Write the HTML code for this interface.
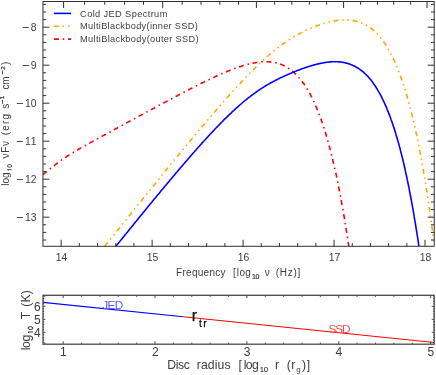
<!DOCTYPE html>
<html><head><meta charset="utf-8"><title>plot</title>
<style>
html,body{margin:0;padding:0;background:#fff;}
svg{display:block;font-family:"Liberation Sans",sans-serif;will-change:transform;}
</style></head><body>
<svg width="436" height="375" viewBox="0 0 436 375">
<rect width="436" height="375" fill="#fff"/>
<clipPath id="cp"><rect x="42.95" y="1.5" width="391.25" height="244.8"/></clipPath>
<polyline clip-path="url(#cp)" points="43.0,174.7 43.5,174.2 44.1,173.7 44.7,173.2 45.3,172.7 45.9,172.2 46.5,171.7 47.1,171.2 47.6,170.7 48.2,170.2 48.8,169.7 49.4,169.3 50.0,168.8 50.6,168.3 51.2,167.9 51.8,167.4 52.3,166.9 52.9,166.5 53.5,166.0 54.1,165.6 54.7,165.1 55.3,164.7 55.9,164.2 56.5,163.8 57.0,163.3 57.6,162.9 58.2,162.5 58.8,162.1 59.4,161.6 60.0,161.2 60.6,160.8 61.1,160.4 61.7,160.0 62.3,159.6 62.9,159.2 63.5,158.8 64.1,158.4 64.7,158.0 65.3,157.6 65.8,157.2 66.4,156.8 67.0,156.4 67.6,156.0 68.2,155.6 68.8,155.3 69.4,154.9 70.0,154.5 70.5,154.1 71.1,153.8 71.7,153.4 72.3,153.0 72.9,152.7 73.5,152.3 74.1,152.0 74.6,151.6 75.2,151.3 75.8,150.9 76.4,150.6 77.0,150.2 77.6,149.9 78.2,149.5 78.8,149.2 79.3,148.8 79.9,148.5 80.5,148.1 81.1,147.8 81.7,147.5 82.3,147.1 82.9,146.8 83.5,146.5 84.0,146.1 84.6,145.8 85.2,145.5 85.8,145.2 86.4,144.8 87.0,144.5 87.6,144.2 88.2,143.8 88.7,143.5 89.3,143.2 89.9,142.9 90.5,142.5 91.1,142.2 91.7,141.9 92.3,141.6 92.8,141.3 93.4,140.9 94.0,140.6 94.6,140.3 95.2,140.0 95.8,139.6 96.4,139.3 97.0,139.0 97.5,138.7 98.1,138.4 98.7,138.0 99.3,137.7 99.9,137.4 100.5,137.1 101.1,136.8 101.7,136.4 102.2,136.1 102.8,135.8 103.4,135.5 104.0,135.2 104.6,134.8 105.2,134.5 105.8,134.2 106.3,133.9 106.9,133.6 107.5,133.3 108.1,132.9 108.7,132.6 109.3,132.3 109.9,132.0 110.5,131.7 111.0,131.3 111.6,131.0 112.2,130.7 112.8,130.4 113.4,130.1 114.0,129.7 114.6,129.4 115.2,129.1 115.7,128.8 116.3,128.5 116.9,128.2 117.5,127.8 118.1,127.5 118.7,127.2 119.3,126.9 119.8,126.6 120.4,126.2 121.0,125.9 121.6,125.6 122.2,125.3 122.8,125.0 123.4,124.6 124.0,124.3 124.5,124.0 125.1,123.7 125.7,123.4 126.3,123.1 126.9,122.7 127.5,122.4 128.1,122.1 128.7,121.8 129.2,121.5 129.8,121.1 130.4,120.8 131.0,120.5 131.6,120.2 132.2,119.9 132.8,119.6 133.4,119.2 133.9,118.9 134.5,118.6 135.1,118.3 135.7,118.0 136.3,117.7 136.9,117.3 137.5,117.0 138.0,116.7 138.6,116.4 139.2,116.1 139.8,115.7 140.4,115.4 141.0,115.1 141.6,114.8 142.2,114.5 142.7,114.2 143.3,113.8 143.9,113.5 144.5,113.2 145.1,112.9 145.7,112.6 146.3,112.3 146.9,111.9 147.4,111.6 148.0,111.3 148.6,111.0 149.2,110.7 149.8,110.4 150.4,110.0 151.0,109.7 151.5,109.4 152.1,109.1 152.7,108.8 153.3,108.5 153.9,108.2 154.5,107.8 155.1,107.5 155.7,107.2 156.2,106.9 156.8,106.6 157.4,106.3 158.0,105.9 158.6,105.6 159.2,105.3 159.8,105.0 160.4,104.7 160.9,104.4 161.5,104.1 162.1,103.7 162.7,103.4 163.3,103.1 163.9,102.8 164.5,102.5 165.1,102.2 165.6,101.9 166.2,101.6 166.8,101.2 167.4,100.9 168.0,100.6 168.6,100.3 169.2,100.0 169.7,99.7 170.3,99.4 170.9,99.1 171.5,98.8 172.1,98.4 172.7,98.1 173.3,97.8 173.9,97.5 174.4,97.2 175.0,96.9 175.6,96.6 176.2,96.3 176.8,96.0 177.4,95.7 178.0,95.3 178.6,95.0 179.1,94.7 179.7,94.4 180.3,94.1 180.9,93.8 181.5,93.5 182.1,93.2 182.7,92.9 183.2,92.6 183.8,92.3 184.4,92.0 185.0,91.7 185.6,91.4 186.2,91.1 186.8,90.7 187.4,90.4 187.9,90.1 188.5,89.8 189.1,89.5 189.7,89.2 190.3,88.9 190.9,88.6 191.5,88.3 192.1,88.0 192.6,87.7 193.2,87.4 193.8,87.1 194.4,86.8 195.0,86.5 195.6,86.2 196.2,85.9 196.7,85.6 197.3,85.3 197.9,85.1 198.5,84.8 199.1,84.5 199.7,84.2 200.3,83.9 200.9,83.6 201.4,83.3 202.0,83.0 202.6,82.7 203.2,82.4 203.8,82.1 204.4,81.8 205.0,81.6 205.6,81.3 206.1,81.0 206.7,80.7 207.3,80.4 207.9,80.1 208.5,79.9 209.1,79.6 209.7,79.3 210.3,79.0 210.8,78.7 211.4,78.5 212.0,78.2 212.6,77.9 213.2,77.6 213.8,77.4 214.4,77.1 214.9,76.8 215.5,76.5 216.1,76.3 216.7,76.0 217.3,75.7 217.9,75.5 218.5,75.2 219.1,74.9 219.6,74.7 220.2,74.4 220.8,74.2 221.4,73.9 222.0,73.6 222.6,73.4 223.2,73.1 223.8,72.9 224.3,72.6 224.9,72.4 225.5,72.1 226.1,71.9 226.7,71.6 227.3,71.4 227.9,71.1 228.4,70.9 229.0,70.7 229.6,70.4 230.2,70.2 230.8,70.0 231.4,69.7 232.0,69.5 232.6,69.3 233.1,69.1 233.7,68.8 234.3,68.6 234.9,68.4 235.5,68.2 236.1,68.0 236.7,67.8 237.3,67.6 237.8,67.3 238.4,67.1 239.0,66.9 239.6,66.7 240.2,66.6 240.8,66.4 241.4,66.2 242.0,66.0 242.5,65.8 243.1,65.6 243.7,65.4 244.3,65.3 244.9,65.1 245.5,64.9 246.1,64.8 246.6,64.6 247.2,64.4 247.8,64.3 248.4,64.1 249.0,64.0 249.6,63.9 250.2,63.7 250.8,63.6 251.3,63.4 251.9,63.3 252.5,63.2 253.1,63.1 253.7,63.0 254.3,62.9 254.9,62.7 255.5,62.6 256.0,62.5 256.6,62.5 257.2,62.4 257.8,62.3 258.4,62.2 259.0,62.1 259.6,62.1 260.1,62.0 260.7,62.0 261.3,61.9 261.9,61.9 262.5,61.8 263.1,61.8 263.7,61.8 264.3,61.8 264.8,61.7 265.4,61.7 266.0,61.7 266.6,61.7 267.2,61.8 267.8,61.8 268.4,61.8 269.0,61.8 269.5,61.9 270.1,61.9 270.7,62.0 271.3,62.1 271.9,62.1 272.5,62.2 273.1,62.3 273.6,62.4 274.2,62.5 274.8,62.6 275.4,62.8 276.0,62.9 276.6,63.0 277.2,63.2 277.8,63.3 278.3,63.5 278.9,63.7 279.5,63.9 280.1,64.1 280.7,64.3 281.3,64.5 281.9,64.8 282.5,65.0 283.0,65.3 283.6,65.6 284.2,65.8 284.8,66.1 285.4,66.4 286.0,66.8 286.6,67.1 287.2,67.4 287.7,67.8 288.3,68.2 288.9,68.6 289.5,69.0 290.1,69.4 290.7,69.8 291.3,70.3 291.8,70.7 292.4,71.2 293.0,71.7 293.6,72.2 294.2,72.7 294.8,73.3 295.4,73.8 296.0,74.4 296.5,75.0 297.1,75.6 297.7,76.2 298.3,76.8 298.9,77.5 299.5,78.2 300.1,78.9 300.7,79.6 301.2,80.3 301.8,81.1 302.4,81.9 303.0,82.7 303.6,83.5 304.2,84.3 304.8,85.2 305.3,86.1 305.9,87.0 306.5,87.9 307.1,88.9 307.7,89.9 308.3,90.9 308.9,91.9 309.5,92.9 310.0,94.0 310.6,95.1 311.2,96.3 311.8,97.4 312.4,98.6 313.0,99.8 313.6,101.0 314.2,102.3 314.7,103.6 315.3,104.9 315.9,106.3 316.5,107.6 317.1,109.1 317.7,110.5 318.3,112.0 318.9,113.5 319.4,115.0 320.0,116.6 320.6,118.2 321.2,119.8 321.8,121.5 322.4,123.2 323.0,124.9 323.5,126.7 324.1,128.5 324.7,130.4 325.3,132.3 325.9,134.2 326.5,136.2 327.1,138.2 327.7,140.2 328.2,142.3 328.8,144.4 329.4,146.6 330.0,148.8 330.6,151.1 331.2,153.4 331.8,155.7 332.4,158.1 332.9,160.5 333.5,163.0 334.1,165.5 334.7,168.1 335.3,170.7 335.9,173.4 336.5,176.1 337.0,178.9 337.6,181.7 338.2,184.6 338.8,187.6 339.4,190.5 340.0,193.6 340.6,196.7 341.2,199.8 341.7,203.1 342.3,206.3 342.9,209.7 343.5,213.1 344.1,216.5 344.7,220.0 345.3,223.6 345.9,227.2 346.4,230.9 347.0,234.7 347.6,238.6 348.2,242.5 348.8,246.3" fill="none" stroke="#ff0000" stroke-width="1.6" stroke-dasharray="5 3.85 1.5 3.69" stroke-dashoffset="0"/>
<polyline clip-path="url(#cp)" points="104.8,246.3 104.8,246.3 105.4,245.5 106.0,244.8 106.5,244.1 107.1,243.3 107.7,242.6 108.3,241.9 108.9,241.1 109.5,240.4 110.1,239.7 110.7,238.9 111.2,238.2 111.8,237.5 112.4,236.7 113.0,236.0 113.6,235.3 114.2,234.5 114.8,233.8 115.3,233.1 115.9,232.3 116.5,231.6 117.1,230.9 117.7,230.1 118.3,229.4 118.9,228.7 119.5,228.0 120.0,227.2 120.6,226.5 121.2,225.8 121.8,225.0 122.4,224.3 123.0,223.6 123.6,222.8 124.2,222.1 124.7,221.4 125.3,220.6 125.9,219.9 126.5,219.2 127.1,218.4 127.7,217.7 128.3,217.0 128.9,216.3 129.4,215.5 130.0,214.8 130.6,214.1 131.2,213.3 131.8,212.6 132.4,211.9 133.0,211.1 133.5,210.4 134.1,209.7 134.7,209.0 135.3,208.2 135.9,207.5 136.5,206.8 137.1,206.0 137.7,205.3 138.2,204.6 138.8,203.9 139.4,203.1 140.0,202.4 140.6,201.7 141.2,200.9 141.8,200.2 142.4,199.5 142.9,198.8 143.5,198.0 144.1,197.3 144.7,196.6 145.3,195.8 145.9,195.1 146.5,194.4 147.0,193.7 147.6,192.9 148.2,192.2 148.8,191.5 149.4,190.8 150.0,190.0 150.6,189.3 151.2,188.6 151.7,187.9 152.3,187.1 152.9,186.4 153.5,185.7 154.1,185.0 154.7,184.2 155.3,183.5 155.9,182.8 156.4,182.1 157.0,181.3 157.6,180.6 158.2,179.9 158.8,179.2 159.4,178.4 160.0,177.7 160.6,177.0 161.1,176.3 161.7,175.5 162.3,174.8 162.9,174.1 163.5,173.4 164.1,172.7 164.7,171.9 165.2,171.2 165.8,170.5 166.4,169.8 167.0,169.1 167.6,168.3 168.2,167.6 168.8,166.9 169.4,166.2 169.9,165.5 170.5,164.7 171.1,164.0 171.7,163.3 172.3,162.6 172.9,161.9 173.5,161.1 174.1,160.4 174.6,159.7 175.2,159.0 175.8,158.3 176.4,157.6 177.0,156.8 177.6,156.1 178.2,155.4 178.7,154.7 179.3,154.0 179.9,153.3 180.5,152.6 181.1,151.8 181.7,151.1 182.3,150.4 182.9,149.7 183.4,149.0 184.0,148.3 184.6,147.6 185.2,146.9 185.8,146.2 186.4,145.4 187.0,144.7 187.6,144.0 188.1,143.3 188.7,142.6 189.3,141.9 189.9,141.2 190.5,140.5 191.1,139.8 191.7,139.1 192.2,138.4 192.8,137.7 193.4,137.0 194.0,136.2 194.6,135.5 195.2,134.8 195.8,134.1 196.4,133.4 196.9,132.7 197.5,132.0 198.1,131.3 198.7,130.6 199.3,129.9 199.9,129.2 200.5,128.5 201.1,127.8 201.6,127.1 202.2,126.4 202.8,125.7 203.4,125.1 204.0,124.4 204.6,123.7 205.2,123.0 205.8,122.3 206.3,121.6 206.9,120.9 207.5,120.2 208.1,119.5 208.7,118.8 209.3,118.1 209.9,117.4 210.4,116.8 211.0,116.1 211.6,115.4 212.2,114.7 212.8,114.0 213.4,113.3 214.0,112.7 214.6,112.0 215.1,111.3 215.7,110.6 216.3,109.9 216.9,109.3 217.5,108.6 218.1,107.9 218.7,107.2 219.3,106.5 219.8,105.9 220.4,105.2 221.0,104.5 221.6,103.9 222.2,103.2 222.8,102.5 223.4,101.9 223.9,101.2 224.5,100.5 225.1,99.9 225.7,99.2 226.3,98.5 226.9,97.9 227.5,97.2 228.1,96.6 228.6,95.9 229.2,95.2 229.8,94.6 230.4,93.9 231.0,93.3 231.6,92.6 232.2,92.0 232.8,91.3 233.3,90.7 233.9,90.1 234.5,89.4 235.1,88.8 235.7,88.1 236.3,87.5 236.9,86.8 237.4,86.2 238.0,85.6 238.6,84.9 239.2,84.3 239.8,83.7 240.4,83.1 241.0,82.4 241.6,81.8 242.1,81.2 242.7,80.6 243.3,79.9 243.9,79.3 244.5,78.7 245.1,78.1 245.7,77.5 246.3,76.9 246.8,76.3 247.4,75.7 248.0,75.1 248.6,74.5 249.2,73.9 249.8,73.3 250.4,72.7 251.0,72.1 251.5,71.5 252.1,70.9 252.7,70.3 253.3,69.7 253.9,69.1 254.5,68.6 255.1,68.0 255.6,67.4 256.2,66.8 256.8,66.3 257.4,65.7 258.0,65.1 258.6,64.6 259.2,64.0 259.8,63.5 260.3,62.9 260.9,62.4 261.5,61.8 262.1,61.3 262.7,60.7 263.3,60.2 263.9,59.6 264.5,59.1 265.0,58.6 265.6,58.0 266.2,57.5 266.8,57.0 267.4,56.5 268.0,56.0 268.6,55.5 269.1,54.9 269.7,54.4 270.3,53.9 270.9,53.4 271.5,52.9 272.1,52.5 272.7,52.0 273.3,51.5 273.8,51.0 274.4,50.5 275.0,50.0 275.6,49.6 276.2,49.1 276.8,48.6 277.4,48.2 278.0,47.7 278.5,47.3 279.1,46.8 279.7,46.4 280.3,45.9 280.9,45.5 281.5,45.1 282.1,44.6 282.7,44.2 283.2,43.8 283.8,43.4 284.4,43.0 285.0,42.5 285.6,42.1 286.2,41.7 286.8,41.3 287.3,40.9 287.9,40.5 288.5,40.2 289.1,39.8 289.7,39.4 290.3,39.0 290.9,38.6 291.5,38.3 292.0,37.9 292.6,37.6 293.2,37.2 293.8,36.8 294.4,36.5 295.0,36.2 295.6,35.8 296.2,35.5 296.7,35.1 297.3,34.8 297.9,34.5 298.5,34.2 299.1,33.9 299.7,33.5 300.3,33.2 300.8,32.9 301.4,32.6 302.0,32.3 302.6,32.0 303.2,31.7 303.8,31.4 304.4,31.2 305.0,30.9 305.5,30.6 306.1,30.3 306.7,30.0 307.3,29.8 307.9,29.5 308.5,29.3 309.1,29.0 309.7,28.7 310.2,28.5 310.8,28.2 311.4,28.0 312.0,27.7 312.6,27.5 313.2,27.3 313.8,27.0 314.3,26.8 314.9,26.6 315.5,26.4 316.1,26.1 316.7,25.9 317.3,25.7 317.9,25.5 318.5,25.3 319.0,25.1 319.6,24.9 320.2,24.7 320.8,24.5 321.4,24.3 322.0,24.1 322.6,23.9 323.2,23.7 323.7,23.6 324.3,23.4 324.9,23.2 325.5,23.0 326.1,22.9 326.7,22.7 327.3,22.6 327.9,22.4 328.4,22.3 329.0,22.1 329.6,22.0 330.2,21.8 330.8,21.7 331.4,21.6 332.0,21.4 332.5,21.3 333.1,21.2 333.7,21.1 334.3,21.0 334.9,20.9 335.5,20.8 336.1,20.7 336.7,20.6 337.2,20.5 337.8,20.4 338.4,20.3 339.0,20.3 339.6,20.2 340.2,20.1 340.8,20.1 341.4,20.0 341.9,20.0 342.5,20.0 343.1,19.9 343.7,19.9 344.3,19.9 344.9,19.9 345.5,19.9 346.0,19.9 346.6,19.9 347.2,19.9 347.8,19.9 348.4,19.9 349.0,20.0 349.6,20.0 350.2,20.1 350.7,20.1 351.3,20.2 351.9,20.3 352.5,20.4 353.1,20.5 353.7,20.6 354.3,20.7 354.9,20.8 355.4,20.9 356.0,21.0 356.6,21.2 357.2,21.4 357.8,21.5 358.4,21.7 359.0,21.9 359.6,22.1 360.1,22.3 360.7,22.5 361.3,22.7 361.9,23.0 362.5,23.2 363.1,23.5 363.7,23.7 364.2,24.0 364.8,24.3 365.4,24.6 366.0,25.0 366.6,25.3 367.2,25.6 367.8,26.0 368.4,26.4 368.9,26.8 369.5,27.2 370.1,27.6 370.7,28.0 371.3,28.5 371.9,28.9 372.5,29.4 373.1,29.9 373.6,30.4 374.2,30.9 374.8,31.5 375.4,32.0 376.0,32.6 376.6,33.2 377.2,33.8 377.7,34.4 378.3,35.1 378.9,35.7 379.5,36.4 380.1,37.1 380.7,37.8 381.3,38.6 381.9,39.3 382.4,40.1 383.0,40.9 383.6,41.7 384.2,42.6 384.8,43.4 385.4,44.3 386.0,45.2 386.6,46.2 387.1,47.1 387.7,48.1 388.3,49.1 388.9,50.1 389.5,51.2 390.1,52.3 390.7,53.4 391.2,54.5 391.8,55.7 392.4,56.8 393.0,58.1 393.6,59.3 394.2,60.6 394.8,61.9 395.4,63.2 395.9,64.5 396.5,65.9 397.1,67.3 397.7,68.8 398.3,70.2 398.9,71.8 399.5,73.3 400.1,74.9 400.6,76.5 401.2,78.1 401.8,79.8 402.4,81.5 403.0,83.2 403.6,85.0 404.2,86.8 404.8,88.7 405.3,90.6 405.9,92.5 406.5,94.5 407.1,96.5 407.7,98.5 408.3,100.6 408.9,102.7 409.4,104.9 410.0,107.1 410.6,109.4 411.2,111.7 411.8,114.0 412.4,116.4 413.0,118.9 413.6,121.4 414.1,123.9 414.7,126.5 415.3,129.1 415.9,131.8 416.5,134.5 417.1,137.3 417.7,140.1 418.3,143.0 418.8,145.9 419.4,148.9 420.0,152.0 420.6,155.1 421.2,158.2 421.8,161.4 422.4,164.7 422.9,168.1 423.5,171.4 424.1,174.9 424.7,178.4 425.3,182.0 425.9,185.6 426.5,189.4 427.1,193.1 427.6,197.0 428.2,200.9 428.8,204.9 429.4,208.9 430.0,213.0 430.6,217.2 431.2,221.5 431.8,225.8 432.3,230.3 432.9,234.7 433.5,239.3 434.1,244.0 434.2,244.7" fill="none" stroke="#ffa500" stroke-width="1.6" stroke-dasharray="5 3.75 1.5 3.75 1.5 3.7" stroke-dashoffset="0"/>
<polyline clip-path="url(#cp)" points="115.9,246.3 115.9,246.2 116.5,245.5 117.1,244.8 117.7,244.0 118.3,243.3 118.9,242.6 119.5,241.9 120.0,241.1 120.6,240.4 121.2,239.7 121.8,239.0 122.4,238.2 123.0,237.5 123.6,236.8 124.2,236.0 124.7,235.3 125.3,234.6 125.9,233.9 126.5,233.1 127.1,232.4 127.7,231.7 128.3,231.0 128.9,230.3 129.4,229.5 130.0,228.8 130.6,228.1 131.2,227.4 131.8,226.6 132.4,225.9 133.0,225.2 133.5,224.5 134.1,223.7 134.7,223.0 135.3,222.3 135.9,221.6 136.5,220.9 137.1,220.1 137.7,219.4 138.2,218.7 138.8,218.0 139.4,217.3 140.0,216.5 140.6,215.8 141.2,215.1 141.8,214.4 142.4,213.7 142.9,212.9 143.5,212.2 144.1,211.5 144.7,210.8 145.3,210.1 145.9,209.4 146.5,208.6 147.0,207.9 147.6,207.2 148.2,206.5 148.8,205.8 149.4,205.1 150.0,204.3 150.6,203.6 151.2,202.9 151.7,202.2 152.3,201.5 152.9,200.8 153.5,200.1 154.1,199.3 154.7,198.6 155.3,197.9 155.9,197.2 156.4,196.5 157.0,195.8 157.6,195.1 158.2,194.4 158.8,193.7 159.4,193.0 160.0,192.2 160.6,191.5 161.1,190.8 161.7,190.1 162.3,189.4 162.9,188.7 163.5,188.0 164.1,187.3 164.7,186.6 165.2,185.9 165.8,185.2 166.4,184.5 167.0,183.8 167.6,183.1 168.2,182.4 168.8,181.7 169.4,181.0 169.9,180.3 170.5,179.6 171.1,178.9 171.7,178.2 172.3,177.5 172.9,176.8 173.5,176.1 174.1,175.4 174.6,174.7 175.2,174.0 175.8,173.3 176.4,172.6 177.0,171.9 177.6,171.2 178.2,170.5 178.7,169.8 179.3,169.1 179.9,168.5 180.5,167.8 181.1,167.1 181.7,166.4 182.3,165.7 182.9,165.0 183.4,164.3 184.0,163.7 184.6,163.0 185.2,162.3 185.8,161.6 186.4,160.9 187.0,160.2 187.6,159.6 188.1,158.9 188.7,158.2 189.3,157.5 189.9,156.9 190.5,156.2 191.1,155.5 191.7,154.8 192.2,154.2 192.8,153.5 193.4,152.8 194.0,152.2 194.6,151.5 195.2,150.8 195.8,150.2 196.4,149.5 196.9,148.8 197.5,148.2 198.1,147.5 198.7,146.8 199.3,146.2 199.9,145.5 200.5,144.9 201.1,144.2 201.6,143.6 202.2,142.9 202.8,142.3 203.4,141.6 204.0,141.0 204.6,140.3 205.2,139.7 205.8,139.0 206.3,138.4 206.9,137.7 207.5,137.1 208.1,136.5 208.7,135.8 209.3,135.2 209.9,134.6 210.4,133.9 211.0,133.3 211.6,132.7 212.2,132.1 212.8,131.4 213.4,130.8 214.0,130.2 214.6,129.6 215.1,128.9 215.7,128.3 216.3,127.7 216.9,127.1 217.5,126.5 218.1,125.9 218.7,125.3 219.3,124.7 219.8,124.1 220.4,123.5 221.0,122.9 221.6,122.3 222.2,121.7 222.8,121.1 223.4,120.5 223.9,119.9 224.5,119.3 225.1,118.7 225.7,118.2 226.3,117.6 226.9,117.0 227.5,116.4 228.1,115.9 228.6,115.3 229.2,114.7 229.8,114.2 230.4,113.6 231.0,113.1 231.6,112.5 232.2,111.9 232.8,111.4 233.3,110.8 233.9,110.3 234.5,109.8 235.1,109.2 235.7,108.7 236.3,108.2 236.9,107.6 237.4,107.1 238.0,106.6 238.6,106.1 239.2,105.5 239.8,105.0 240.4,104.5 241.0,104.0 241.6,103.5 242.1,103.0 242.7,102.5 243.3,102.0 243.9,101.5 244.5,101.0 245.1,100.5 245.7,100.1 246.3,99.6 246.8,99.1 247.4,98.6 248.0,98.2 248.6,97.7 249.2,97.2 249.8,96.8 250.4,96.3 251.0,95.9 251.5,95.4 252.1,95.0 252.7,94.6 253.3,94.1 253.9,93.7 254.5,93.3 255.1,92.8 255.6,92.4 256.2,92.0 256.8,91.6 257.4,91.2 258.0,90.8 258.6,90.4 259.2,90.0 259.8,89.6 260.3,89.2 260.9,88.8 261.5,88.4 262.1,88.1 262.7,87.7 263.3,87.3 263.9,86.9 264.5,86.6 265.0,86.2 265.6,85.8 266.2,85.5 266.8,85.1 267.4,84.8 268.0,84.4 268.6,84.1 269.1,83.8 269.7,83.4 270.3,83.1 270.9,82.8 271.5,82.5 272.1,82.1 272.7,81.8 273.3,81.5 273.8,81.2 274.4,80.9 275.0,80.6 275.6,80.3 276.2,80.0 276.8,79.7 277.4,79.4 278.0,79.1 278.5,78.8 279.1,78.5 279.7,78.2 280.3,77.9 280.9,77.6 281.5,77.4 282.1,77.1 282.7,76.8 283.2,76.5 283.8,76.3 284.4,76.0 285.0,75.7 285.6,75.5 286.2,75.2 286.8,74.9 287.3,74.7 287.9,74.4 288.5,74.2 289.1,73.9 289.7,73.7 290.3,73.4 290.9,73.2 291.5,72.9 292.0,72.7 292.6,72.4 293.2,72.2 293.8,71.9 294.4,71.7 295.0,71.5 295.6,71.2 296.2,71.0 296.7,70.8 297.3,70.6 297.9,70.3 298.5,70.1 299.1,69.9 299.7,69.7 300.3,69.4 300.8,69.2 301.4,69.0 302.0,68.8 302.6,68.6 303.2,68.4 303.8,68.2 304.4,68.0 305.0,67.8 305.5,67.6 306.1,67.4 306.7,67.2 307.3,67.0 307.9,66.8 308.5,66.6 309.1,66.4 309.7,66.2 310.2,66.0 310.8,65.9 311.4,65.7 312.0,65.5 312.6,65.3 313.2,65.2 313.8,65.0 314.3,64.9 314.9,64.7 315.5,64.5 316.1,64.4 316.7,64.2 317.3,64.1 317.9,64.0 318.5,63.8 319.0,63.7 319.6,63.6 320.2,63.4 320.8,63.3 321.4,63.2 322.0,63.1 322.6,63.0 323.2,62.8 323.7,62.7 324.3,62.6 324.9,62.6 325.5,62.5 326.1,62.4 326.7,62.3 327.3,62.2 327.9,62.2 328.4,62.1 329.0,62.0 329.6,62.0 330.2,61.9 330.8,61.9 331.4,61.8 332.0,61.8 332.5,61.8 333.1,61.7 333.7,61.7 334.3,61.7 334.9,61.7 335.5,61.7 336.1,61.7 336.7,61.7 337.2,61.8 337.8,61.8 338.4,61.8 339.0,61.9 339.6,61.9 340.2,62.0 340.8,62.0 341.4,62.1 341.9,62.2 342.5,62.3 343.1,62.4 343.7,62.5 344.3,62.6 344.9,62.7 345.5,62.9 346.0,63.0 346.6,63.2 347.2,63.3 347.8,63.5 348.4,63.7 349.0,63.8 349.6,64.0 350.2,64.3 350.7,64.5 351.3,64.7 351.9,64.9 352.5,65.2 353.1,65.5 353.7,65.7 354.3,66.0 354.9,66.3 355.4,66.6 356.0,67.0 356.6,67.3 357.2,67.7 357.8,68.0 358.4,68.4 359.0,68.8 359.6,69.2 360.1,69.6 360.7,70.0 361.3,70.5 361.9,70.9 362.5,71.4 363.1,71.9 363.7,72.4 364.2,72.9 364.8,73.5 365.4,74.0 366.0,74.6 366.6,75.2 367.2,75.8 367.8,76.4 368.4,77.1 368.9,77.7 369.5,78.4 370.1,79.1 370.7,79.8 371.3,80.6 371.9,81.3 372.5,82.1 373.1,82.9 373.6,83.7 374.2,84.6 374.8,85.4 375.4,86.3 376.0,87.2 376.6,88.2 377.2,89.1 377.7,90.1 378.3,91.1 378.9,92.1 379.5,93.2 380.1,94.2 380.7,95.3 381.3,96.4 381.9,97.6 382.4,98.8 383.0,100.0 383.6,101.2 384.2,102.5 384.8,103.8 385.4,105.1 386.0,106.4 386.6,107.8 387.1,109.2 387.7,110.6 388.3,112.1 388.9,113.6 389.5,115.1 390.1,116.7 390.7,118.3 391.2,119.9 391.8,121.6 392.4,123.3 393.0,125.0 393.6,126.8 394.2,128.6 394.8,130.4 395.4,132.3 395.9,134.2 396.5,136.2 397.1,138.2 397.7,140.2 398.3,142.3 398.9,144.4 399.5,146.6 400.1,148.8 400.6,151.0 401.2,153.3 401.8,155.7 402.4,158.0 403.0,160.5 403.6,162.9 404.2,165.5 404.8,168.0 405.3,170.6 405.9,173.3 406.5,176.0 407.1,178.8 407.7,181.6 408.3,184.5 408.9,187.4 409.4,190.3 410.0,193.4 410.6,196.5 411.2,199.6 411.8,202.8 412.4,206.1 413.0,209.4 413.6,212.8 414.1,216.2 414.7,219.7 415.3,223.2 415.9,226.9 416.5,230.6 417.1,234.3 417.7,238.1 418.3,242.0 418.8,246.0 418.9,246.3" fill="none" stroke="#0000ff" stroke-width="1.6"  stroke-dashoffset="0"/>
<rect x="42.95" y="1.5" width="391.25" height="244.8" fill="none" stroke="#303030" stroke-width="1"/>
<line x1="42.95" y1="4.40" x2="46.15" y2="4.40" stroke="#303030" stroke-width="1.0" />
<line x1="434.20" y1="4.40" x2="431.00" y2="4.40" stroke="#303030" stroke-width="1.0" />
<line x1="42.95" y1="12.00" x2="46.15" y2="12.00" stroke="#303030" stroke-width="1.0" />
<line x1="434.20" y1="12.00" x2="431.00" y2="12.00" stroke="#303030" stroke-width="1.0" />
<line x1="42.95" y1="19.60" x2="46.15" y2="19.60" stroke="#303030" stroke-width="1.0" />
<line x1="434.20" y1="19.60" x2="431.00" y2="19.60" stroke="#303030" stroke-width="1.0" />
<line x1="42.95" y1="27.20" x2="49.45" y2="27.20" stroke="#303030" stroke-width="1.0" />
<line x1="434.20" y1="27.20" x2="427.70" y2="27.20" stroke="#303030" stroke-width="1.0" />
<line x1="22.70" y1="27.50" x2="28.90" y2="27.50" stroke="#3c3c3c" stroke-width="0.9" />
<text x="36.50" y="31.10" font-size="10.4" text-anchor="end" fill="#3c3c3c" textLength="5.90" lengthAdjust="spacing" >8</text>
<line x1="42.95" y1="34.80" x2="46.15" y2="34.80" stroke="#303030" stroke-width="1.0" />
<line x1="434.20" y1="34.80" x2="431.00" y2="34.80" stroke="#303030" stroke-width="1.0" />
<line x1="42.95" y1="42.40" x2="46.15" y2="42.40" stroke="#303030" stroke-width="1.0" />
<line x1="434.20" y1="42.40" x2="431.00" y2="42.40" stroke="#303030" stroke-width="1.0" />
<line x1="42.95" y1="50.00" x2="46.15" y2="50.00" stroke="#303030" stroke-width="1.0" />
<line x1="434.20" y1="50.00" x2="431.00" y2="50.00" stroke="#303030" stroke-width="1.0" />
<line x1="42.95" y1="57.60" x2="46.15" y2="57.60" stroke="#303030" stroke-width="1.0" />
<line x1="434.20" y1="57.60" x2="431.00" y2="57.60" stroke="#303030" stroke-width="1.0" />
<line x1="42.95" y1="65.20" x2="49.45" y2="65.20" stroke="#303030" stroke-width="1.0" />
<line x1="434.20" y1="65.20" x2="427.70" y2="65.20" stroke="#303030" stroke-width="1.0" />
<line x1="22.70" y1="65.50" x2="28.90" y2="65.50" stroke="#3c3c3c" stroke-width="0.9" />
<text x="36.50" y="69.10" font-size="10.4" text-anchor="end" fill="#3c3c3c" textLength="5.90" lengthAdjust="spacing" >9</text>
<line x1="42.95" y1="72.80" x2="46.15" y2="72.80" stroke="#303030" stroke-width="1.0" />
<line x1="434.20" y1="72.80" x2="431.00" y2="72.80" stroke="#303030" stroke-width="1.0" />
<line x1="42.95" y1="80.40" x2="46.15" y2="80.40" stroke="#303030" stroke-width="1.0" />
<line x1="434.20" y1="80.40" x2="431.00" y2="80.40" stroke="#303030" stroke-width="1.0" />
<line x1="42.95" y1="88.00" x2="46.15" y2="88.00" stroke="#303030" stroke-width="1.0" />
<line x1="434.20" y1="88.00" x2="431.00" y2="88.00" stroke="#303030" stroke-width="1.0" />
<line x1="42.95" y1="95.60" x2="46.15" y2="95.60" stroke="#303030" stroke-width="1.0" />
<line x1="434.20" y1="95.60" x2="431.00" y2="95.60" stroke="#303030" stroke-width="1.0" />
<line x1="42.95" y1="103.20" x2="49.45" y2="103.20" stroke="#303030" stroke-width="1.0" />
<line x1="434.20" y1="103.20" x2="427.70" y2="103.20" stroke="#303030" stroke-width="1.0" />
<line x1="16.80" y1="103.50" x2="23.00" y2="103.50" stroke="#3c3c3c" stroke-width="0.9" />
<text x="36.50" y="107.10" font-size="10.4" text-anchor="end" fill="#3c3c3c" textLength="11.60" lengthAdjust="spacing" >10</text>
<line x1="42.95" y1="110.80" x2="46.15" y2="110.80" stroke="#303030" stroke-width="1.0" />
<line x1="434.20" y1="110.80" x2="431.00" y2="110.80" stroke="#303030" stroke-width="1.0" />
<line x1="42.95" y1="118.40" x2="46.15" y2="118.40" stroke="#303030" stroke-width="1.0" />
<line x1="434.20" y1="118.40" x2="431.00" y2="118.40" stroke="#303030" stroke-width="1.0" />
<line x1="42.95" y1="126.00" x2="46.15" y2="126.00" stroke="#303030" stroke-width="1.0" />
<line x1="434.20" y1="126.00" x2="431.00" y2="126.00" stroke="#303030" stroke-width="1.0" />
<line x1="42.95" y1="133.60" x2="46.15" y2="133.60" stroke="#303030" stroke-width="1.0" />
<line x1="434.20" y1="133.60" x2="431.00" y2="133.60" stroke="#303030" stroke-width="1.0" />
<line x1="42.95" y1="141.20" x2="49.45" y2="141.20" stroke="#303030" stroke-width="1.0" />
<line x1="434.20" y1="141.20" x2="427.70" y2="141.20" stroke="#303030" stroke-width="1.0" />
<line x1="16.80" y1="141.50" x2="23.00" y2="141.50" stroke="#3c3c3c" stroke-width="0.9" />
<text x="36.50" y="145.10" font-size="10.4" text-anchor="end" fill="#3c3c3c" textLength="11.60" lengthAdjust="spacing" >11</text>
<line x1="42.95" y1="148.80" x2="46.15" y2="148.80" stroke="#303030" stroke-width="1.0" />
<line x1="434.20" y1="148.80" x2="431.00" y2="148.80" stroke="#303030" stroke-width="1.0" />
<line x1="42.95" y1="156.40" x2="46.15" y2="156.40" stroke="#303030" stroke-width="1.0" />
<line x1="434.20" y1="156.40" x2="431.00" y2="156.40" stroke="#303030" stroke-width="1.0" />
<line x1="42.95" y1="164.00" x2="46.15" y2="164.00" stroke="#303030" stroke-width="1.0" />
<line x1="434.20" y1="164.00" x2="431.00" y2="164.00" stroke="#303030" stroke-width="1.0" />
<line x1="42.95" y1="171.60" x2="46.15" y2="171.60" stroke="#303030" stroke-width="1.0" />
<line x1="434.20" y1="171.60" x2="431.00" y2="171.60" stroke="#303030" stroke-width="1.0" />
<line x1="42.95" y1="179.20" x2="49.45" y2="179.20" stroke="#303030" stroke-width="1.0" />
<line x1="434.20" y1="179.20" x2="427.70" y2="179.20" stroke="#303030" stroke-width="1.0" />
<line x1="16.80" y1="179.50" x2="23.00" y2="179.50" stroke="#3c3c3c" stroke-width="0.9" />
<text x="36.50" y="183.10" font-size="10.4" text-anchor="end" fill="#3c3c3c" textLength="11.60" lengthAdjust="spacing" >12</text>
<line x1="42.95" y1="186.80" x2="46.15" y2="186.80" stroke="#303030" stroke-width="1.0" />
<line x1="434.20" y1="186.80" x2="431.00" y2="186.80" stroke="#303030" stroke-width="1.0" />
<line x1="42.95" y1="194.40" x2="46.15" y2="194.40" stroke="#303030" stroke-width="1.0" />
<line x1="434.20" y1="194.40" x2="431.00" y2="194.40" stroke="#303030" stroke-width="1.0" />
<line x1="42.95" y1="202.00" x2="46.15" y2="202.00" stroke="#303030" stroke-width="1.0" />
<line x1="434.20" y1="202.00" x2="431.00" y2="202.00" stroke="#303030" stroke-width="1.0" />
<line x1="42.95" y1="209.60" x2="46.15" y2="209.60" stroke="#303030" stroke-width="1.0" />
<line x1="434.20" y1="209.60" x2="431.00" y2="209.60" stroke="#303030" stroke-width="1.0" />
<line x1="42.95" y1="217.20" x2="49.45" y2="217.20" stroke="#303030" stroke-width="1.0" />
<line x1="434.20" y1="217.20" x2="427.70" y2="217.20" stroke="#303030" stroke-width="1.0" />
<line x1="16.80" y1="217.50" x2="23.00" y2="217.50" stroke="#3c3c3c" stroke-width="0.9" />
<text x="36.50" y="221.10" font-size="10.4" text-anchor="end" fill="#3c3c3c" textLength="11.60" lengthAdjust="spacing" >13</text>
<line x1="42.95" y1="224.80" x2="46.15" y2="224.80" stroke="#303030" stroke-width="1.0" />
<line x1="434.20" y1="224.80" x2="431.00" y2="224.80" stroke="#303030" stroke-width="1.0" />
<line x1="42.95" y1="232.40" x2="46.15" y2="232.40" stroke="#303030" stroke-width="1.0" />
<line x1="434.20" y1="232.40" x2="431.00" y2="232.40" stroke="#303030" stroke-width="1.0" />
<line x1="42.95" y1="240.00" x2="46.15" y2="240.00" stroke="#303030" stroke-width="1.0" />
<line x1="434.20" y1="240.00" x2="431.00" y2="240.00" stroke="#303030" stroke-width="1.0" />
<line x1="61.15" y1="246.30" x2="61.15" y2="239.80" stroke="#303030" stroke-width="1.0" />
<text x="61.55" y="261.10" font-size="10.4" text-anchor="middle" fill="#3c3c3c" textLength="11.60" lengthAdjust="spacing" >14</text>
<line x1="79.34" y1="246.30" x2="79.34" y2="243.10" stroke="#303030" stroke-width="1.0" />
<line x1="97.54" y1="246.30" x2="97.54" y2="243.10" stroke="#303030" stroke-width="1.0" />
<line x1="115.73" y1="246.30" x2="115.73" y2="243.10" stroke="#303030" stroke-width="1.0" />
<line x1="133.93" y1="246.30" x2="133.93" y2="243.10" stroke="#303030" stroke-width="1.0" />
<line x1="152.12" y1="246.30" x2="152.12" y2="239.80" stroke="#303030" stroke-width="1.0" />
<text x="152.52" y="261.10" font-size="10.4" text-anchor="middle" fill="#3c3c3c" textLength="11.60" lengthAdjust="spacing" >15</text>
<line x1="170.31" y1="246.30" x2="170.31" y2="243.10" stroke="#303030" stroke-width="1.0" />
<line x1="188.51" y1="246.30" x2="188.51" y2="243.10" stroke="#303030" stroke-width="1.0" />
<line x1="206.70" y1="246.30" x2="206.70" y2="243.10" stroke="#303030" stroke-width="1.0" />
<line x1="224.90" y1="246.30" x2="224.90" y2="243.10" stroke="#303030" stroke-width="1.0" />
<line x1="243.09" y1="246.30" x2="243.09" y2="239.80" stroke="#303030" stroke-width="1.0" />
<text x="243.49" y="261.10" font-size="10.4" text-anchor="middle" fill="#3c3c3c" textLength="11.60" lengthAdjust="spacing" >16</text>
<line x1="261.28" y1="246.30" x2="261.28" y2="243.10" stroke="#303030" stroke-width="1.0" />
<line x1="279.48" y1="246.30" x2="279.48" y2="243.10" stroke="#303030" stroke-width="1.0" />
<line x1="297.67" y1="246.30" x2="297.67" y2="243.10" stroke="#303030" stroke-width="1.0" />
<line x1="315.87" y1="246.30" x2="315.87" y2="243.10" stroke="#303030" stroke-width="1.0" />
<line x1="334.06" y1="246.30" x2="334.06" y2="239.80" stroke="#303030" stroke-width="1.0" />
<text x="334.46" y="261.10" font-size="10.4" text-anchor="middle" fill="#3c3c3c" textLength="11.60" lengthAdjust="spacing" >17</text>
<line x1="352.25" y1="246.30" x2="352.25" y2="243.10" stroke="#303030" stroke-width="1.0" />
<line x1="370.45" y1="246.30" x2="370.45" y2="243.10" stroke="#303030" stroke-width="1.0" />
<line x1="388.64" y1="246.30" x2="388.64" y2="243.10" stroke="#303030" stroke-width="1.0" />
<line x1="406.84" y1="246.30" x2="406.84" y2="243.10" stroke="#303030" stroke-width="1.0" />
<line x1="425.03" y1="246.30" x2="425.03" y2="239.80" stroke="#303030" stroke-width="1.0" />
<text x="425.43" y="261.10" font-size="10.4" text-anchor="middle" fill="#3c3c3c" textLength="11.60" lengthAdjust="spacing" >18</text>
<line x1="63.60" y1="1.50" x2="63.60" y2="8.00" stroke="#303030" stroke-width="1.0" />
<line x1="84.60" y1="1.50" x2="84.60" y2="4.70" stroke="#303030" stroke-width="1.0" />
<line x1="104.70" y1="1.50" x2="104.70" y2="4.70" stroke="#303030" stroke-width="1.0" />
<line x1="124.60" y1="1.50" x2="124.60" y2="4.70" stroke="#303030" stroke-width="1.0" />
<line x1="143.50" y1="1.50" x2="143.50" y2="4.70" stroke="#303030" stroke-width="1.0" />
<line x1="162.70" y1="1.50" x2="162.70" y2="8.00" stroke="#303030" stroke-width="1.0" />
<line x1="182.20" y1="1.50" x2="182.20" y2="4.70" stroke="#303030" stroke-width="1.0" />
<line x1="201.00" y1="1.50" x2="201.00" y2="4.70" stroke="#303030" stroke-width="1.0" />
<line x1="219.80" y1="1.50" x2="219.80" y2="4.70" stroke="#303030" stroke-width="1.0" />
<line x1="238.50" y1="1.50" x2="238.50" y2="4.70" stroke="#303030" stroke-width="1.0" />
<line x1="256.40" y1="1.50" x2="256.40" y2="8.00" stroke="#303030" stroke-width="1.0" />
<line x1="274.60" y1="1.50" x2="274.60" y2="4.70" stroke="#303030" stroke-width="1.0" />
<line x1="291.80" y1="1.50" x2="291.80" y2="4.70" stroke="#303030" stroke-width="1.0" />
<line x1="309.40" y1="1.50" x2="309.40" y2="4.70" stroke="#303030" stroke-width="1.0" />
<line x1="326.60" y1="1.50" x2="326.60" y2="4.70" stroke="#303030" stroke-width="1.0" />
<line x1="343.60" y1="1.50" x2="343.60" y2="8.00" stroke="#303030" stroke-width="1.0" />
<line x1="360.60" y1="1.50" x2="360.60" y2="4.70" stroke="#303030" stroke-width="1.0" />
<line x1="377.50" y1="1.50" x2="377.50" y2="4.70" stroke="#303030" stroke-width="1.0" />
<line x1="393.70" y1="1.50" x2="393.70" y2="4.70" stroke="#303030" stroke-width="1.0" />
<line x1="410.60" y1="1.50" x2="410.60" y2="4.70" stroke="#303030" stroke-width="1.0" />
<line x1="427.00" y1="1.50" x2="427.00" y2="8.00" stroke="#303030" stroke-width="1.0" />
<line x1="53.9" y1="13.4" x2="71" y2="13.4" stroke="#0000ff" stroke-width="1.6" />
<text x="80.10" y="16.50" font-size="9.2" text-anchor="start" fill="#3c3c3c" textLength="87.20" lengthAdjust="spacing" >Cold JED Spectrum</text>
<line x1="53.9" y1="26.3" x2="71" y2="26.3" stroke="#ffa500" stroke-width="1.6" stroke-dasharray="5 3.75 1.5 3.75 1.5 3.7"/>
<text x="80.10" y="29.20" font-size="9.2" text-anchor="start" fill="#3c3c3c" textLength="117.70" lengthAdjust="spacing" >MultiBlackbody(inner SSD)</text>
<line x1="53.9" y1="39.1" x2="71" y2="39.1" stroke="#ff0000" stroke-width="1.6" stroke-dasharray="5 3.85 1.5 3.69"/>
<text x="80.10" y="41.80" font-size="9.2" text-anchor="start" fill="#3c3c3c" textLength="118.50" lengthAdjust="spacing" >MultiBlackbody(outer SSD)</text>
<text x="176.00" y="275.70" font-size="10" text-anchor="start" fill="#3c3c3c" textLength="49.60" lengthAdjust="spacing" >Frequency</text>
<text x="232.90" y="275.70" font-size="10" text-anchor="start" fill="#3c3c3c" >[</text>
<text x="236.80" y="275.70" font-size="10" text-anchor="start" fill="#3c3c3c" textLength="14.10" lengthAdjust="spacing" >log</text>
<text x="252.00" y="278.70" font-size="7.0" text-anchor="start" fill="#2a2a2a" textLength="7.40" lengthAdjust="spacing" stroke="#2a2a2a" stroke-width="0.15">10</text>
<text x="264.70" y="275.70" font-size="10" text-anchor="start" fill="#3c3c3c" >&#957;</text>
<text x="275.80" y="275.70" font-size="10" text-anchor="start" fill="#3c3c3c" textLength="24.40" lengthAdjust="spacing" >(Hz)]</text>
<g transform="translate(9.0,185.7) rotate(-90)">
<text x="0.00" y="0.00" font-size="10" text-anchor="start" fill="#3c3c3c" textLength="13.30" lengthAdjust="spacing" >log</text>
<path d="M15.00,-0.60 L16.10,-1.60 L16.10,2.70" fill="none" stroke="#333" stroke-width="0.85" stroke-linejoin="round"/>
<ellipse cx="19.80" cy="0.55" rx="1.35" ry="2.15" fill="none" stroke="#333" stroke-width="0.85"/>
<text x="27.20" y="0.00" font-size="10" text-anchor="start" fill="#3c3c3c" textLength="17.50" lengthAdjust="spacing" >&#957;F&#957;</text>
<text x="50.50" y="0.00" font-size="10" text-anchor="start" fill="#3c3c3c" textLength="31.50" lengthAdjust="spacing" >(erg s</text>
<line x1="81.80" y1="-6.50" x2="85.80" y2="-6.50" stroke="#333" stroke-width="0.85" />
<text x="86.40" y="-4.60" font-size="6.2" text-anchor="start" fill="#2a2a2a" stroke="#2a2a2a" stroke-width="0.2">1</text>
<text x="96.30" y="0.00" font-size="10" text-anchor="start" fill="#3c3c3c" textLength="13.10" lengthAdjust="spacing" >cm</text>
<line x1="111.40" y1="-6.50" x2="115.10" y2="-6.50" stroke="#333" stroke-width="0.85" />
<text x="115.90" y="-4.30" font-size="6.2" text-anchor="start" fill="#2a2a2a" stroke="#2a2a2a" stroke-width="0.2">2</text>
<text x="120.60" y="0.00" font-size="10" text-anchor="start" fill="#3c3c3c" >)</text>
</g>
<line x1="43.00" y1="302.40" x2="183.20" y2="316.77" stroke="#0000ff" stroke-width="1.15" />
<line x1="183.20" y1="316.77" x2="434.20" y2="342.50" stroke="#ff0000" stroke-width="1.15" />
<rect x="43.0" y="295.3" width="391.2" height="48.89999999999998" fill="none" stroke="#4a4a4a" stroke-width="1.3"/>
<line x1="44.83" y1="344.20" x2="44.83" y2="342.60" stroke="#4a4a4a" stroke-width="1.0" />
<line x1="44.83" y1="295.30" x2="44.83" y2="296.90" stroke="#4a4a4a" stroke-width="1.0" />
<line x1="63.20" y1="344.20" x2="63.20" y2="341.40" stroke="#4a4a4a" stroke-width="1.0" />
<line x1="63.20" y1="295.30" x2="63.20" y2="298.10" stroke="#4a4a4a" stroke-width="1.0" />
<text x="63.40" y="356.00" font-size="12.0" text-anchor="middle" fill="#3c3c3c" >1</text>
<line x1="81.57" y1="344.20" x2="81.57" y2="342.60" stroke="#4a4a4a" stroke-width="1.0" />
<line x1="81.57" y1="295.30" x2="81.57" y2="296.90" stroke="#4a4a4a" stroke-width="1.0" />
<line x1="99.94" y1="344.20" x2="99.94" y2="342.60" stroke="#4a4a4a" stroke-width="1.0" />
<line x1="99.94" y1="295.30" x2="99.94" y2="296.90" stroke="#4a4a4a" stroke-width="1.0" />
<line x1="118.31" y1="344.20" x2="118.31" y2="342.60" stroke="#4a4a4a" stroke-width="1.0" />
<line x1="118.31" y1="295.30" x2="118.31" y2="296.90" stroke="#4a4a4a" stroke-width="1.0" />
<line x1="136.68" y1="344.20" x2="136.68" y2="342.60" stroke="#4a4a4a" stroke-width="1.0" />
<line x1="136.68" y1="295.30" x2="136.68" y2="296.90" stroke="#4a4a4a" stroke-width="1.0" />
<line x1="155.05" y1="344.20" x2="155.05" y2="341.40" stroke="#4a4a4a" stroke-width="1.0" />
<line x1="155.05" y1="295.30" x2="155.05" y2="298.10" stroke="#4a4a4a" stroke-width="1.0" />
<text x="155.25" y="356.00" font-size="12.0" text-anchor="middle" fill="#3c3c3c" >2</text>
<line x1="173.42" y1="344.20" x2="173.42" y2="342.60" stroke="#4a4a4a" stroke-width="1.0" />
<line x1="173.42" y1="295.30" x2="173.42" y2="296.90" stroke="#4a4a4a" stroke-width="1.0" />
<line x1="191.79" y1="344.20" x2="191.79" y2="342.60" stroke="#4a4a4a" stroke-width="1.0" />
<line x1="191.79" y1="295.30" x2="191.79" y2="296.90" stroke="#4a4a4a" stroke-width="1.0" />
<line x1="210.16" y1="344.20" x2="210.16" y2="342.60" stroke="#4a4a4a" stroke-width="1.0" />
<line x1="210.16" y1="295.30" x2="210.16" y2="296.90" stroke="#4a4a4a" stroke-width="1.0" />
<line x1="228.53" y1="344.20" x2="228.53" y2="342.60" stroke="#4a4a4a" stroke-width="1.0" />
<line x1="228.53" y1="295.30" x2="228.53" y2="296.90" stroke="#4a4a4a" stroke-width="1.0" />
<line x1="246.90" y1="344.20" x2="246.90" y2="341.40" stroke="#4a4a4a" stroke-width="1.0" />
<line x1="246.90" y1="295.30" x2="246.90" y2="298.10" stroke="#4a4a4a" stroke-width="1.0" />
<text x="247.10" y="356.00" font-size="12.0" text-anchor="middle" fill="#3c3c3c" >3</text>
<line x1="265.27" y1="344.20" x2="265.27" y2="342.60" stroke="#4a4a4a" stroke-width="1.0" />
<line x1="265.27" y1="295.30" x2="265.27" y2="296.90" stroke="#4a4a4a" stroke-width="1.0" />
<line x1="283.64" y1="344.20" x2="283.64" y2="342.60" stroke="#4a4a4a" stroke-width="1.0" />
<line x1="283.64" y1="295.30" x2="283.64" y2="296.90" stroke="#4a4a4a" stroke-width="1.0" />
<line x1="302.01" y1="344.20" x2="302.01" y2="342.60" stroke="#4a4a4a" stroke-width="1.0" />
<line x1="302.01" y1="295.30" x2="302.01" y2="296.90" stroke="#4a4a4a" stroke-width="1.0" />
<line x1="320.38" y1="344.20" x2="320.38" y2="342.60" stroke="#4a4a4a" stroke-width="1.0" />
<line x1="320.38" y1="295.30" x2="320.38" y2="296.90" stroke="#4a4a4a" stroke-width="1.0" />
<line x1="338.75" y1="344.20" x2="338.75" y2="341.40" stroke="#4a4a4a" stroke-width="1.0" />
<line x1="338.75" y1="295.30" x2="338.75" y2="298.10" stroke="#4a4a4a" stroke-width="1.0" />
<text x="338.95" y="356.00" font-size="12.0" text-anchor="middle" fill="#3c3c3c" >4</text>
<line x1="357.12" y1="344.20" x2="357.12" y2="342.60" stroke="#4a4a4a" stroke-width="1.0" />
<line x1="357.12" y1="295.30" x2="357.12" y2="296.90" stroke="#4a4a4a" stroke-width="1.0" />
<line x1="375.49" y1="344.20" x2="375.49" y2="342.60" stroke="#4a4a4a" stroke-width="1.0" />
<line x1="375.49" y1="295.30" x2="375.49" y2="296.90" stroke="#4a4a4a" stroke-width="1.0" />
<line x1="393.86" y1="344.20" x2="393.86" y2="342.60" stroke="#4a4a4a" stroke-width="1.0" />
<line x1="393.86" y1="295.30" x2="393.86" y2="296.90" stroke="#4a4a4a" stroke-width="1.0" />
<line x1="412.23" y1="344.20" x2="412.23" y2="342.60" stroke="#4a4a4a" stroke-width="1.0" />
<line x1="412.23" y1="295.30" x2="412.23" y2="296.90" stroke="#4a4a4a" stroke-width="1.0" />
<line x1="430.60" y1="344.20" x2="430.60" y2="341.40" stroke="#4a4a4a" stroke-width="1.0" />
<line x1="430.60" y1="295.30" x2="430.60" y2="298.10" stroke="#4a4a4a" stroke-width="1.0" />
<text x="430.80" y="356.00" font-size="12.0" text-anchor="middle" fill="#3c3c3c" >5</text>
<line x1="43.00" y1="342.70" x2="44.20" y2="342.70" stroke="#4a4a4a" stroke-width="1.0" />
<line x1="434.20" y1="342.70" x2="433.00" y2="342.70" stroke="#4a4a4a" stroke-width="1.0" />
<line x1="43.00" y1="340.10" x2="44.20" y2="340.10" stroke="#4a4a4a" stroke-width="1.0" />
<line x1="434.20" y1="340.10" x2="433.00" y2="340.10" stroke="#4a4a4a" stroke-width="1.0" />
<line x1="43.00" y1="337.50" x2="44.20" y2="337.50" stroke="#4a4a4a" stroke-width="1.0" />
<line x1="434.20" y1="337.50" x2="433.00" y2="337.50" stroke="#4a4a4a" stroke-width="1.0" />
<line x1="43.00" y1="334.90" x2="44.20" y2="334.90" stroke="#4a4a4a" stroke-width="1.0" />
<line x1="434.20" y1="334.90" x2="433.00" y2="334.90" stroke="#4a4a4a" stroke-width="1.0" />
<line x1="43.00" y1="332.30" x2="45.40" y2="332.30" stroke="#4a4a4a" stroke-width="1.0" />
<line x1="434.20" y1="332.30" x2="431.80" y2="332.30" stroke="#4a4a4a" stroke-width="1.0" />
<text x="40.70" y="336.60" font-size="12.0" text-anchor="end" fill="#3c3c3c" >4</text>
<line x1="43.00" y1="329.70" x2="44.20" y2="329.70" stroke="#4a4a4a" stroke-width="1.0" />
<line x1="434.20" y1="329.70" x2="433.00" y2="329.70" stroke="#4a4a4a" stroke-width="1.0" />
<line x1="43.00" y1="327.10" x2="44.20" y2="327.10" stroke="#4a4a4a" stroke-width="1.0" />
<line x1="434.20" y1="327.10" x2="433.00" y2="327.10" stroke="#4a4a4a" stroke-width="1.0" />
<line x1="43.00" y1="324.50" x2="44.20" y2="324.50" stroke="#4a4a4a" stroke-width="1.0" />
<line x1="434.20" y1="324.50" x2="433.00" y2="324.50" stroke="#4a4a4a" stroke-width="1.0" />
<line x1="43.00" y1="321.90" x2="44.20" y2="321.90" stroke="#4a4a4a" stroke-width="1.0" />
<line x1="434.20" y1="321.90" x2="433.00" y2="321.90" stroke="#4a4a4a" stroke-width="1.0" />
<line x1="43.00" y1="319.30" x2="45.40" y2="319.30" stroke="#4a4a4a" stroke-width="1.0" />
<line x1="434.20" y1="319.30" x2="431.80" y2="319.30" stroke="#4a4a4a" stroke-width="1.0" />
<text x="40.70" y="323.60" font-size="12.0" text-anchor="end" fill="#3c3c3c" >5</text>
<line x1="43.00" y1="316.70" x2="44.20" y2="316.70" stroke="#4a4a4a" stroke-width="1.0" />
<line x1="434.20" y1="316.70" x2="433.00" y2="316.70" stroke="#4a4a4a" stroke-width="1.0" />
<line x1="43.00" y1="314.10" x2="44.20" y2="314.10" stroke="#4a4a4a" stroke-width="1.0" />
<line x1="434.20" y1="314.10" x2="433.00" y2="314.10" stroke="#4a4a4a" stroke-width="1.0" />
<line x1="43.00" y1="311.50" x2="44.20" y2="311.50" stroke="#4a4a4a" stroke-width="1.0" />
<line x1="434.20" y1="311.50" x2="433.00" y2="311.50" stroke="#4a4a4a" stroke-width="1.0" />
<line x1="43.00" y1="308.90" x2="44.20" y2="308.90" stroke="#4a4a4a" stroke-width="1.0" />
<line x1="434.20" y1="308.90" x2="433.00" y2="308.90" stroke="#4a4a4a" stroke-width="1.0" />
<line x1="43.00" y1="306.30" x2="45.40" y2="306.30" stroke="#4a4a4a" stroke-width="1.0" />
<line x1="434.20" y1="306.30" x2="431.80" y2="306.30" stroke="#4a4a4a" stroke-width="1.0" />
<text x="40.70" y="310.60" font-size="12.0" text-anchor="end" fill="#3c3c3c" >6</text>
<line x1="43.00" y1="303.70" x2="44.20" y2="303.70" stroke="#4a4a4a" stroke-width="1.0" />
<line x1="434.20" y1="303.70" x2="433.00" y2="303.70" stroke="#4a4a4a" stroke-width="1.0" />
<line x1="43.00" y1="301.10" x2="44.20" y2="301.10" stroke="#4a4a4a" stroke-width="1.0" />
<line x1="434.20" y1="301.10" x2="433.00" y2="301.10" stroke="#4a4a4a" stroke-width="1.0" />
<line x1="43.00" y1="298.50" x2="44.20" y2="298.50" stroke="#4a4a4a" stroke-width="1.0" />
<line x1="434.20" y1="298.50" x2="433.00" y2="298.50" stroke="#4a4a4a" stroke-width="1.0" />
<line x1="43.00" y1="295.90" x2="44.20" y2="295.90" stroke="#4a4a4a" stroke-width="1.0" />
<line x1="434.20" y1="295.90" x2="433.00" y2="295.90" stroke="#4a4a4a" stroke-width="1.0" />
<text x="102.30" y="309.00" font-size="11.8" text-anchor="start" fill="#5a5aff" textLength="20.90" lengthAdjust="spacing" >JED</text>
<text x="328.40" y="333.20" font-size="11.8" text-anchor="start" fill="#ff4a4a" textLength="22.20" lengthAdjust="spacing" >SSD</text>
<text x="191.80" y="321.40" font-size="16" text-anchor="start" fill="#111" stroke="#111" stroke-width="0.25">r</text>
<text x="199.00" y="327.10" font-size="10.6" text-anchor="start" fill="#111" textLength="7.80" lengthAdjust="spacing" stroke="#111" stroke-width="0.25">tr</text>
<text x="167.30" y="369.20" font-size="12.2" text-anchor="start" fill="#3c3c3c" textLength="22.60" lengthAdjust="spacing" >Disc</text>
<text x="196.70" y="369.20" font-size="12.2" text-anchor="start" fill="#3c3c3c" textLength="33.90" lengthAdjust="spacing" >radius</text>
<text x="238.40" y="369.20" font-size="12.2" text-anchor="start" fill="#3c3c3c" >[</text>
<text x="243.70" y="369.20" font-size="12.2" text-anchor="start" fill="#3c3c3c" textLength="15.00" lengthAdjust="spacing" >log</text>
<text x="259.80" y="372.40" font-size="7.8" text-anchor="start" fill="#2a2a2a" textLength="8.40" lengthAdjust="spacing" stroke="#2a2a2a" stroke-width="0.1">10</text>
<text x="274.90" y="369.20" font-size="12.2" text-anchor="start" fill="#3c3c3c" >r</text>
<text x="286.80" y="369.20" font-size="12.2" text-anchor="start" fill="#3c3c3c" textLength="8.60" lengthAdjust="spacing" >(r</text>
<text x="296.20" y="371.80" font-size="8.0" text-anchor="start" fill="#3c3c3c" >g</text>
<text x="302.00" y="369.20" font-size="12.2" text-anchor="start" fill="#3c3c3c" textLength="8.20" lengthAdjust="spacing" >)]</text>
<g transform="translate(29.9,350.3) rotate(-90)">
<text x="0.00" y="0.00" font-size="12.2" text-anchor="start" fill="#3c3c3c" textLength="15.50" lengthAdjust="spacing" >log</text>
<path d="M17.20,-0.90 L18.30,-1.90 L18.30,2.85" fill="none" stroke="#2a2a2a" stroke-width="0.95" stroke-linejoin="round"/>
<ellipse cx="22.20" cy="0.48" rx="1.45" ry="2.38" fill="none" stroke="#2a2a2a" stroke-width="0.95"/>
<text x="31.10" y="0.00" font-size="12.2" text-anchor="start" fill="#3c3c3c" >T</text>
<text x="43.60" y="0.00" font-size="12.2" text-anchor="start" fill="#3c3c3c" textLength="16.50" lengthAdjust="spacing" >(K)</text>
</g>
</svg>
</body></html>
